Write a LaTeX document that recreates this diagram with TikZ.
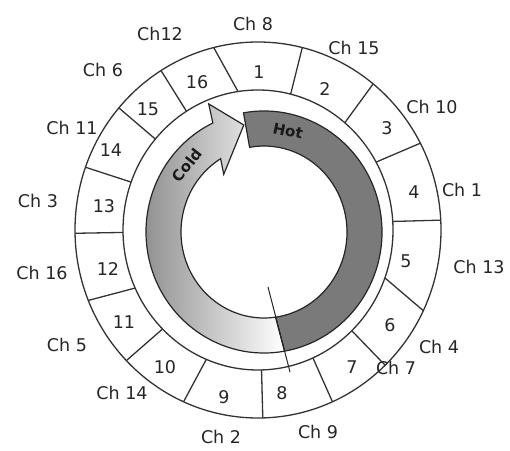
\documentclass[tikz,border=0pt]{standalone}
\usepackage{fontspec}
\setmainfont{DejaVu Sans}
\usetikzlibrary{calc}
\begin{document}
\begin{tikzpicture}[x=1pt,y=1pt,
  ringline/.style={draw=black!80, line width=1.3pt},
  numlabel/.style={font=\fontsize{17.5}{20}\selectfont, text=black!85, inner sep=0pt},
  chlabel/.style={font=\fontsize{17.5}{20}\selectfont, text=black!85, inner sep=0pt},
  bandline/.style={draw=black!85, line width=1.2pt},
  flowtext/.style={font=\fontsize{15}{17}\selectfont\bfseries, text=black!90, inner sep=0pt}]
\useasboundingbox (0,0) rectangle (510,450);
\fill[white] (0,0) rectangle (510,450);
\coordinate (C) at (258,220);
\coordinate (A) at (264,218);
% hot band
\filldraw[bandline, fill=black!52] ($(A)+(100:118 and 121)$) arc[start angle=100, end angle=-80, x radius=118, y radius=121]
  -- ($(A)+(-82:83 and 86)$) arc[start angle=-82, end angle=100, x radius=83, y radius=86] -- cycle;
% cold arrow
\path[bandline, left color=black!45, right color=white]
  ($(A)+(280:118 and 121)$) arc[start angle=280, end angle=115.7, x radius=118, y radius=121]
  -- ($(A)+(113.8:137 and 140)$) -- ($(A)+(101:106 and 109)$) -- ($(A)+(125.7:69 and 71)$)
  -- ($(A)+(121.5:83 and 86)$) arc[start angle=121.5, end angle=278, x radius=83, y radius=86] -- cycle;
% cut line
\coordinate (cutA) at (268,163);
\coordinate (cutB) at (290,78);
\draw[black!85, line width=1pt] (cutA) -- (cutB);
\node[flowtext, rotate=-12] (hot) at (288,319) {Hot};
\node[flowtext, rotate=52] (cold) at (187,285) {Cold};
% ring
\draw[ringline] (C) ellipse[x radius=183, y radius=188];
\draw[ringline] (C) ellipse[x radius=135, y radius=140];
\foreach \o/\i in {76/76, 51/50, 27.5/29, 3/3.5, -25.4/-20, -46/-46, -66/-66, -88.5/-88.5, -114/-112.5, -136/-135, -158/-155.5, 181/181, 160.5/160, 139.5/139.5, 122/122, 104/98.5}
  \draw[ringline] ($(C)+(\i:135 and 140)$) -- ($(C)+(\o:183 and 188)$);
% segment numbers
\node[numlabel] (n1) at (259,378) {1};
\node[numlabel] (n2) at (325,361) {2};
\node[numlabel] (n3) at (387,322) {3};
\node[numlabel] (n4) at (414,258) {4};
\node[numlabel] (n5) at (406,189) {5};
\node[numlabel] (n6) at (390,125) {6};
\node[numlabel] (n7) at (352,83) {7};
\node[numlabel] (n8) at (282,57) {8};
\node[numlabel] (n9) at (224,53) {9};
\node[numlabel] (n10) at (165,83) {10};
\node[numlabel] (n11) at (124,128) {11};
\node[numlabel] (n12) at (108,181) {12};
\node[numlabel] (n13) at (104,244) {13};
\node[numlabel] (n14) at (111,300) {14};
\node[numlabel] (n15) at (148,341) {15};
\node[numlabel] (n16) at (197,368) {16};
% channel labels
\node[chlabel] (c8) at (253,426) {Ch 8};
\node[chlabel] (c12) at (160,416) {Ch12};
\node[chlabel] (c15) at (354,402) {Ch 15};
\node[chlabel] (c10) at (432,343) {Ch 10};
\node[chlabel] (c1) at (462,260) {Ch 1};
\node[chlabel] (c13) at (479,183) {Ch 13};
\node[chlabel] (c4) at (439,103) {Ch 4};
\node[chlabel] (c7) at (396,82) {Ch 7};
\node[chlabel] (c9) at (318,18) {Ch 9};
\node[chlabel] (c2) at (221,13) {Ch 2};
\node[chlabel] (c14) at (122,57) {Ch 14};
\node[chlabel] (c5) at (67,105) {Ch 5};
\node[chlabel] (c16) at (42,177) {Ch 16};
\node[chlabel] (c3) at (38,249) {Ch 3};
\node[chlabel] (c11) at (72,322) {Ch 11};
\node[chlabel] (c6) at (103,380) {Ch 6};
\end{tikzpicture}
\end{document}
